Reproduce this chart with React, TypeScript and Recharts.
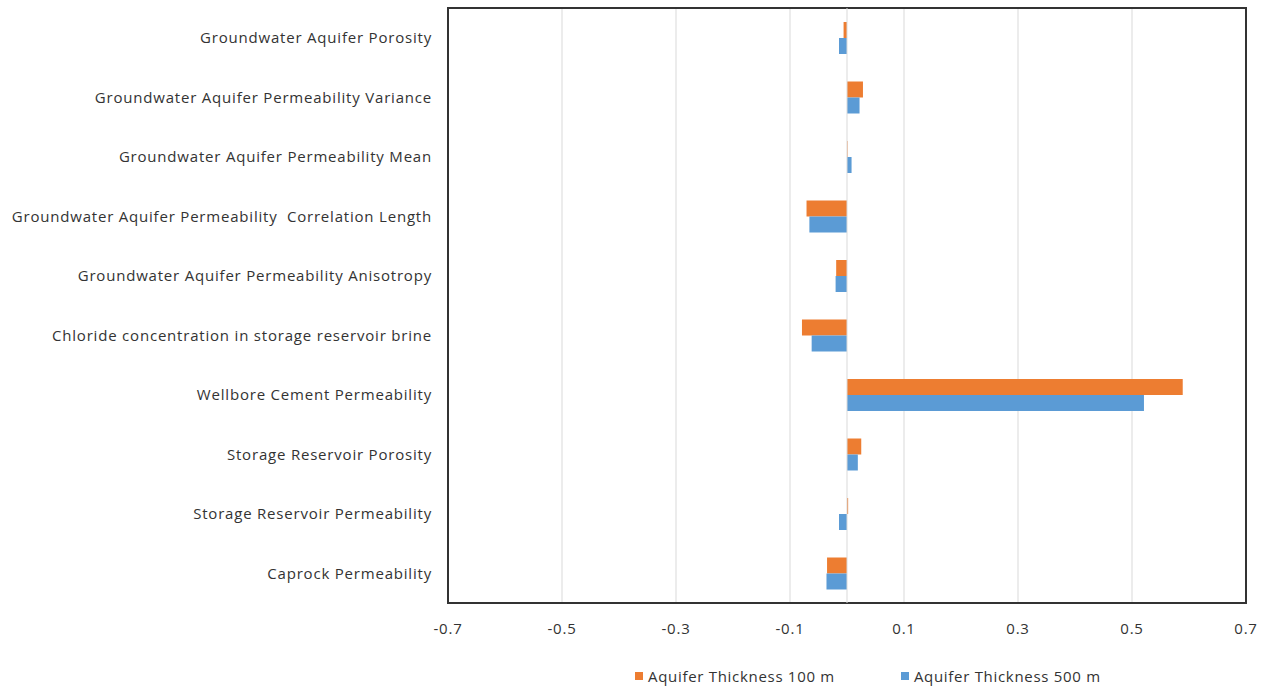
import React from "react";
import {
  BarChart,
  Bar,
  XAxis,
  YAxis,
  CartesianGrid,
  Legend,
  ReferenceLine,
  ReferenceArea,
} from "recharts";

const categories = [
  "Groundwater Aquifer Porosity",
  "Groundwater Aquifer Permeability Variance",
  "Groundwater Aquifer Permeability Mean",
  "Groundwater Aquifer Permeability\u00a0 Correlation Length",
  "Groundwater Aquifer Permeability Anisotropy",
  "Chloride concentration in storage reservoir brine",
  "Wellbore Cement Permeability",
  "Storage Reservoir Porosity",
  "Storage Reservoir Permeability",
  "Caprock Permeability",
];

const thickness100 = [-0.006, 0.028, 0.001, -0.071, -0.019, -0.079, 0.589, 0.025, 0.002, -0.035];
const thickness500 = [-0.014, 0.022, 0.008, -0.066, -0.02, -0.062, 0.521, 0.019, -0.014, -0.036];

const xTicks = [-0.7, -0.5, -0.3, -0.1, 0.1, 0.3, 0.5, 0.7];

const seriesNames = ["Aquifer Thickness 100 m", "Aquifer Thickness 500 m"];
const colors = ["#ED7D31", "#5B9BD5"];

const data = categories.map((c, i) => ({
  name: c,
  t100: thickness100[i],
  t500: thickness500[i],
}));

const FONT = "'Open Sans', sans-serif";

const LegendContent = () => (
  <div
    style={{
      display: "flex",
      fontFamily: FONT,
      fontSize: 15,
      letterSpacing: 0.7,
      color: "#333",
      gap: 66,
    }}
  >
    {seriesNames.map((n, i) => (
      <div key={n} style={{ display: "flex", alignItems: "center" }}>
        <span
          style={{
            display: "inline-block",
            width: 8,
            height: 8,
            background: colors[i],
            marginRight: 5,
          }}
        />
        <span>{n}</span>
      </div>
    ))}
  </div>
);

export default function App() {
  return (
    <div style={{ position: "absolute", left: 0, top: 0, background: "#fff" }}>
      <BarChart
        width={1267}
        height={688}
        data={data}
        layout="vertical"
        margin={{ top: 8, right: 21, bottom: 55, left: 0 }}
        barSize={16}
        barGap={0}
      >
        <CartesianGrid horizontal={false} stroke="#d9d9d9" />
        <XAxis
          type="number"
          domain={[-0.7, 0.7]}
          ticks={xTicks}
          height={30}
          axisLine={false}
          tickLine={false}
          tickSize={0}
          tickMargin={20}
          tick={{ fill: "#333", fontSize: 15, fontFamily: FONT, style: { letterSpacing: 0.8 } }}
          tickFormatter={(v: number) => String(v)}
        />
        <YAxis
          type="category"
          dataKey="name"
          width={448}
          axisLine={false}
          tickLine={false}
          tickSize={0}
          tickMargin={16}
          interval={0}
          tick={{ fill: "#333", fontSize: 15, fontFamily: FONT, style: { letterSpacing: 0.8 } }}
        />
        <ReferenceLine x={0} stroke="#d9d9d9" />
        <Bar dataKey="t100" name={seriesNames[0]} fill={colors[0]} isAnimationActive={false} />
        <Bar dataKey="t500" name={seriesNames[1]} fill={colors[1]} isAnimationActive={false} />
        <ReferenceArea
          x1={-0.7}
          x2={0.7}
          fill="none"
          stroke="#333"
          strokeWidth={2}
          ifOverflow="visible"
        />
        <Legend
          layout="horizontal"
          verticalAlign="middle"
          align="center"
          content={<LegendContent />}
          wrapperStyle={{ position: "absolute", top: 666, left: 635, width: 600 }}
        />
      </BarChart>
    </div>
  );
}
